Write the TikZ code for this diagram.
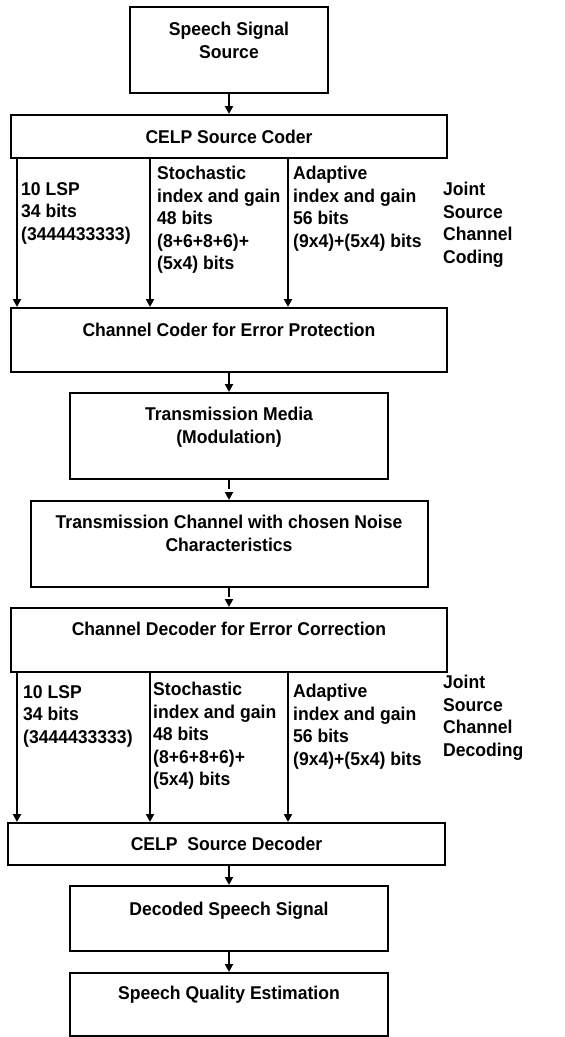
\documentclass[tikz,border=0pt]{standalone}
\usepackage{fontspec}
\setmainfont[FakeStretch=0.95]{Liberation Sans}
\usetikzlibrary{arrows.meta,fit}
\begin{document}
\begin{tikzpicture}[x=1pt,y=-1pt,
  box/.style={draw, line width=2pt, inner sep=0pt},
  txt/.style={inner sep=0pt, font=\fontsize{18.5}{22.5}\selectfont\bfseries},
  ctxt/.style={txt, anchor=north, align=center},
  ltxt/.style={txt, anchor=north west, align=left},
  arr/.style={line width=2pt, -{Triangle[width=8pt,length=8pt]}},
  darr/.style={arr, dash pattern=on 9pt off 40pt}]
  % page frame
  \fill[white] (0,0) rectangle (565,1037);
  \useasboundingbox (0,0) rectangle (565,1037);

  % blocks of the chain
  \node[box, fit={(130,7) (328,93)}] (src) {};
  \node[box, fit={(11,115) (447,158)}] (enc) {};
  \node[box, fit={(11,308) (447,372)}] (chc) {};
  \node[box, fit={(70,393) (388,479)}] (mod) {};
  \node[box, fit={(31,501) (428,587)}] (chan) {};
  \node[box, fit={(11,608) (447,672)}] (chd) {};
  \node[box, fit={(8,823) (445,865)}] (dec) {};
  \node[box, fit={(70,886) (388,951)}] (dss) {};
  \node[box, fit={(70,973) (388,1036)}] (sqe) {};

  % block titles
  \node[ctxt] (srct) at (229,22) {Speech Signal\\Source};
  \node[ctxt] (enct) at (229,130) {CELP Source Coder};
  \node[ctxt] (chct) at (229,323) {Channel Coder for Error Protection};
  \node[ctxt] (modt) at (229,407) {Transmission Media\\(Modulation)};
  \node[ctxt] (chant) at (229,515) {Transmission Channel with chosen Noise\\Characteristics};
  \node[ctxt] (chdt) at (229,622) {Channel Decoder for Error Correction};
  \node[ctxt] (dect) at (226.5,837) {CELP\ \ Source Decoder};
  \node[ctxt] (dsst) at (229,902) {Decoded Speech Signal};
  \node[ctxt] (sqet) at (229,986) {Speech Quality Estimation};

  % parameter streams, encoder side
  \node[ltxt] (lspA) at (21,182) {10 LSP\\34 bits\\(3444433333)};
  \node[ltxt] (stoA) at (157,166) {Stochastic\\index and gain\\48 bits\\(8+6+8+6)+\\(5x4) bits};
  \node[ltxt] (adpA) at (293,166) {Adaptive\\index and gain\\56 bits\\(9x4)+(5x4) bits};
  \node[ltxt] (jscA) at (443,182) {Joint\\Source\\Channel\\Coding};

  % parameter streams, decoder side
  \node[ltxt] (lspB) at (23,685) {10 LSP\\34 bits\\(3444433333)};
  \node[ltxt] (stoB) at (153,682) {Stochastic\\index and gain\\48 bits\\(8+6+8+6)+\\(5x4) bits};
  \node[ltxt] (adpB) at (293,684) {Adaptive\\index and gain\\56 bits\\(9x4)+(5x4) bits};
  \node[ltxt] (jscB) at (443,675) {Joint\\Source\\Channel\\Decoding};

  % main flow
  \draw[arr] (src.south) -- (enc.north);
  \draw[arr] (229,0 |- chc.south) -- (229,0 |- mod.north);
  \draw[darr] (mod.south) -- (229,0 |- chan.north);
  \draw[darr] (229,0 |- chan.south) -- (229,0 |- chd.north);
  \draw[arr] (229,0 |- dec.south) -- (dss.north);
  \draw[arr] (dss.south) -- (sqe.north);

  % three streams between coder stages
  \foreach \x in {17,150,288} {
    \draw[arr] (\x,0 |- enc.south) -- (\x,0 |- chc.north);
    \draw[arr] (\x,0 |- chd.south) -- (\x,0 |- dec.north);
  }
\end{tikzpicture}
\end{document}
